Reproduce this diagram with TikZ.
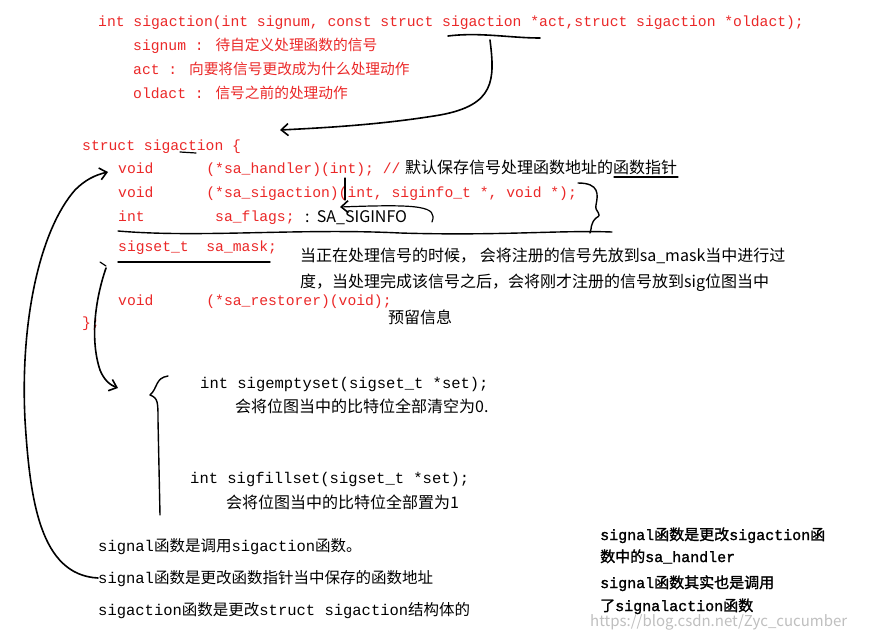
\documentclass[tikz,border=0pt]{standalone}
\usepackage{fontspec}
\setmainfont{Liberation Mono}
\newfontfamily\cjk{Noto Sans CJK SC}
\newfontfamily\cmono{Liberation Mono}
\newfontfamily\bmono[FakeBold=1.5]{Liberation Mono}
\newfontfamily\bcjk[FakeBold=1.5]{Noto Sans CJK SC}
\usetikzlibrary{arrows.meta}
\definecolor{codered}{RGB}{235,40,40}
\tikzset{
  code/.style={anchor=base west,inner sep=0pt,text=codered,font=\cmono\fontsize{14.7}{15}\selectfont},
  note/.style={anchor=base west,inner sep=0pt,font=\cjk\fontsize{16}{16}\selectfont},
  bot/.style={anchor=base west,inner sep=0pt,font=\cmono\fontsize{15.5}{16}\selectfont},
  rt/.style={anchor=base west,inner sep=0pt,font=\bmono\fontsize{15}{15}\selectfont},
  ink/.style={draw=black,line width=1.6pt,line cap=round,line join=round},
  tip/.style={-{Straight Barb[length=7pt,width=12pt,line width=1.6pt]}}
}
\begin{document}
\begin{tikzpicture}[x=1pt,y=-1pt]
\useasboundingbox[fill=white] (0,0) rectangle (873,638);
\node[code] (l1) at (98,26) {int sigaction(int signum, const struct sigaction *act,struct sigaction *oldact);};
\node[code] (l2) at (133,50) {signum : {\cjk 待自定义处理函数的信号}};
\node[code] (l3) at (133,74) {act : {\cjk 向要将信号更改成为什么处理动作}};
\node[code] (l4) at (133,98) {oldact : {\cjk 信号之前的处理动作}};
\node[code] (s0) at (82,150) {struct sigaction \{};
\node[code] (s1) at (118,173) {void\ \ \ \ \ \ (*sa\_handler)(int); //};
\node[note] (c1) at (405,173) {默认保存信号处理函数地址的函数指针};
\node[code] (s2) at (118,197) {void\ \ \ \ \ \ (*sa\_sigaction)(int, siginfo\_t *, void *);};
\node[code] (s3) at (118,221) {int\ \ \ \ \ \ \ \ sa\_flags;};
\node[note] (c3) at (305,222) {:\ \ SA\_SIGINFO};
\node[code] (s4) at (118,251) {sigset\_t\ \ sa\_mask;};
\node[note] (c4a) at (300,261) {当正在处理信号的时候， 会将注册的信号先放到sa\_mask当中进行过};
\node[note] (c4b) at (300,287) {度，当处理完成该信号之后，会将刚才注册的信号放到sig位图当中};
\node[code] (s5) at (118,305) {void\ \ \ \ \ \ (*sa\_restorer)(void);};
\node[note] (c5) at (388,323) {预留信息};
\node[code] (s6) at (82,327) {\};};
\node[bot] (e1) at (200,388) {int sigemptyset(sigset\_t *set);};
\node[note] (e2) at (235,412) {会将位图当中的比特位全部清空为0.};
\node[bot] (f1) at (190,483) {int sigfillset(sigset\_t *set);};
\node[note] (f2) at (226,508) {会将位图当中的比特位全部置为1};
\node[bot] (b1) at (98,551) {signal{\cjk 函数是调用}sigaction{\cjk 函数。}};
\node[bot] (b2) at (98,583) {signal{\cjk 函数是更改函数指针当中保存的函数地址}};
\node[bot] (b3) at (98,615) {sigaction{\cjk 函数是更改}struct sigaction{\cjk 结构体的}};
\node[rt] (r1) at (600,540) {signal{\bcjk 函数是更改}sigaction{\bcjk 函}};
\node[rt] (r2) at (600,562) {{\bcjk 数中的}sa\_handler};
\node[rt] (r3) at (600,588) {signal{\bcjk 函数其实也是调用}};
\node[rt] (r4) at (600,611) {{\bcjk 了}signalaction{\bcjk 函数}};
\node[anchor=base west,inner sep=0pt,text=black!25,font=\cjk\fontsize{15}{15}\selectfont] (wm) at (590,626) {https://blog.csdn.net/Zyc\_cucumber};
% ink strokes
\draw[ink] (448,36) .. controls (480,32) and (510,38) .. (540,38);
\draw[ink,tip] (490,40) .. controls (495,80) and (495,105) .. (440,115) .. controls (380,125) and (320,128) .. (280,130);
\draw[ink,line width=1.2pt] (180,152) -- (196,153);
\draw[ink,tip] (98,578) .. controls (40,575) and (30,500) .. (25,420) .. controls (20,320) and (40,230) .. (75,190) .. controls (85,180) and (95,175) .. (108,172);
\draw[ink,line width=1.2pt] (345,178) -- (345,200);
\draw[ink,line width=1.2pt,tip] (432,222) .. controls (438,206) and (420,204) .. (340,207);
\draw[ink,line width=1.2pt] (614,177) -- (678,177);
\draw[ink,line width=1.4pt] (578,183) .. controls (600,183) and (598,195) .. (596,205) .. controls (594,212) and (604,214) .. (596,218) .. controls (590,224) and (592,228) .. (590,233);
\draw[ink,line width=1.4pt] (118,231) .. controls (200,238) and (300,228) .. (400,233) .. controls (500,236) and (560,230) .. (612,232);
\draw[ink,line width=1.4pt] (118,262) -- (270,262);
\draw[ink,line width=1.2pt] (100,262) -- (106,266);
\draw[ink,tip] (106,268) .. controls (95,300) and (90,340) .. (100,370) .. controls (104,380) and (110,385) .. (118,388);
\draw[ink,line width=1.4pt] (168,376) .. controls (155,378) and (158,388) .. (150,395) .. controls (158,398) and (158,402) .. (158,420) -- (160,515);
\end{tikzpicture}
\end{document}
